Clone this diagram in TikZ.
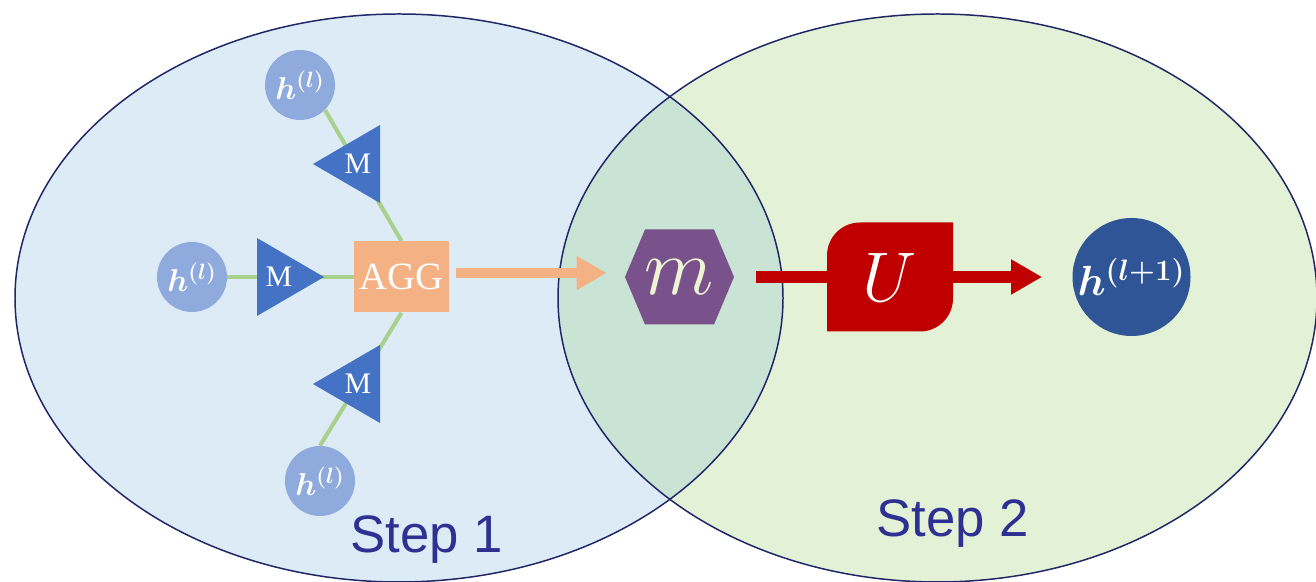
\RequirePackage{fix-cm}
\documentclass[tikz,border=0pt]{standalone}
\usepackage{fontspec}
\newfontfamily\stepfont{Liberation Sans}
\newfontfamily\boxfont{Liberation Serif}
\usetikzlibrary{arrows.meta}
\usetikzlibrary{calc}

\definecolor{stepone}{HTML}{DCEBF6}
\definecolor{steptwo}{HTML}{E3F1D7}
\definecolor{stepboth}{HTML}{C9E4D5}
\definecolor{rim}{HTML}{1F2766}
\definecolor{hlight}{HTML}{8FAADC}
\definecolor{hdark}{HTML}{2F5597}
\definecolor{mblue}{HTML}{4472C4}
\definecolor{aggorange}{HTML}{F4B183}
\definecolor{linkgreen}{HTML}{A9D18E}
\definecolor{hexpurple}{HTML}{7A528B}
\definecolor{mcream}{HTML}{EEF5D5}
\definecolor{ured}{HTML}{C00000}
\definecolor{steptext}{HTML}{2E3192}

\tikzset{
  hin/.style={circle, fill=hlight, minimum size=1.4cm, inner sep=0pt, text=white,
    font=\fontsize{18}{18}\selectfont\boldmath},
  hout/.style={circle, fill=hdark, minimum size=2.36cm, inner sep=0pt, text=white,
    font=\fontsize{24}{24}\selectfont\boldmath},
  msg/.style={minimum width=1.8cm, minimum height=1.6cm, inner sep=0pt, text=white,
    font=\boxfont\fontsize{17}{17}\selectfont},
  % message triangle pointing left / right
  msgl/.style={msg, path picture={\fill[mblue]
      ($(path picture bounding box.center)+(-0.9,0)$)
      -- ($(path picture bounding box.center)+(0.44,0.78)$)
      -- ($(path picture bounding box.center)+(0.44,-0.78)$) -- cycle;}},
  msgr/.style={msg, path picture={\fill[mblue]
      ($(path picture bounding box.center)+(0.9,0)$)
      -- ($(path picture bounding box.center)+(-0.44,0.78)$)
      -- ($(path picture bounding box.center)+(-0.44,-0.78)$) -- cycle;}},
  aggbox/.style={rectangle, fill=aggorange, minimum width=1.9cm, minimum height=1.42cm,
    inner sep=0pt, text=white, font=\boxfont\fontsize{22}{22}\selectfont},
  hexa/.style={minimum width=2.18cm, minimum height=1.9cm, inner sep=0pt, text=mcream,
    font=\fontsize{46}{46}\selectfont,
    path picture={\fill[hexpurple] (path picture bounding box.west)
      -- ([xshift=0.4cm]path picture bounding box.north west)
      -- ([xshift=-0.4cm]path picture bounding box.north east)
      -- (path picture bounding box.east)
      -- ([xshift=-0.4cm]path picture bounding box.south east)
      -- ([xshift=0.4cm]path picture bounding box.south west) -- cycle;}},
  updbox/.style={minimum width=2.52cm, minimum height=2.18cm, inner sep=0pt, text=white,
    font=\fontsize{40}{40}\selectfont,
    path picture={\fill[ured] (path picture bounding box.south west)
      -- ([yshift=-0.66cm]path picture bounding box.north west)
      arc[start angle=180, end angle=90, radius=0.66cm]
      -- (path picture bounding box.north east)
      -- ([yshift=0.66cm]path picture bounding box.south east)
      arc[start angle=0, end angle=-90, radius=0.66cm] -- cycle;}},
  link/.style={draw=linkgreen, line width=2.3pt},
  feed/.style={draw=aggorange, line width=6.2pt, -{Triangle[length=0.6cm, width=0.64cm]}},
  upd/.style={draw=ured, line width=6.8pt, -{Triangle[length=0.62cm, width=0.66cm]}},
  steplabel/.style={text=steptext, font=\stepfont\fontsize{30}{30}\selectfont, anchor=base}
}

\begin{document}
\begin{tikzpicture}
\useasboundingbox (0,0) rectangle (26.32,11.64);

% the two steps
\fill[stepone] (7.98,5.68) ellipse [x radius=7.68, y radius=5.68];
\fill[steptwo] (18.75,5.68) ellipse [x radius=7.59, y radius=5.68];
\begin{scope}
\clip (7.98,5.68) ellipse [x radius=7.68, y radius=5.68];
\fill[stepboth] (18.75,5.68) ellipse [x radius=7.59, y radius=5.68];
\end{scope}
\draw[rim, line width=0.85pt] (7.98,5.68) ellipse [x radius=7.68, y radius=5.68];
\draw[rim, line width=0.85pt] (18.75,5.68) ellipse [x radius=7.59, y radius=5.68];

% step 1: messages from the neighbours
\node[hin] (h1) at (6.00,9.94) {$h^{(l)}$};
\node[hin] (h2) at (3.84,6.10) {$h^{(l)}$};
\node[hin] (h3) at (6.40,2.02) {$h^{(l)}$};
\node[aggbox] (agg) at (8.03,6.10) {AGG};

\draw[link] (h1.-45) -- (agg.north);
\draw[link] (h2) -- (agg);
\draw[link] (h3.north) -- (agg.south);

\node[msgl] (m1) at (7.16,8.36) {M};
\node[msgr] (m2) at (5.58,6.10) {M};
\node[msgl] (m3) at (7.16,3.96) {M};

\node[hexa] (mm) at (13.59,6.10) {$m$};
\draw[feed] ([xshift=0.14cm,yshift=0.08cm]agg.east) -- ([xshift=-0.36cm,yshift=0.08cm]mm.west);

% step 2: update
\node[hout] (hn) at (22.63,6.10) {$h^{(l+1)}$};
\draw[upd] ([xshift=0.44cm]mm.east) -- ([xshift=-0.6cm]hn.west);
\node[updbox] (u) at (17.80,6.10) {$U$};

\node[steplabel] (s1) at (8.53,0.58) {Step 1};
\node[steplabel] (s2) at (19.06,0.90) {Step 2};
\end{tikzpicture}
\end{document}
